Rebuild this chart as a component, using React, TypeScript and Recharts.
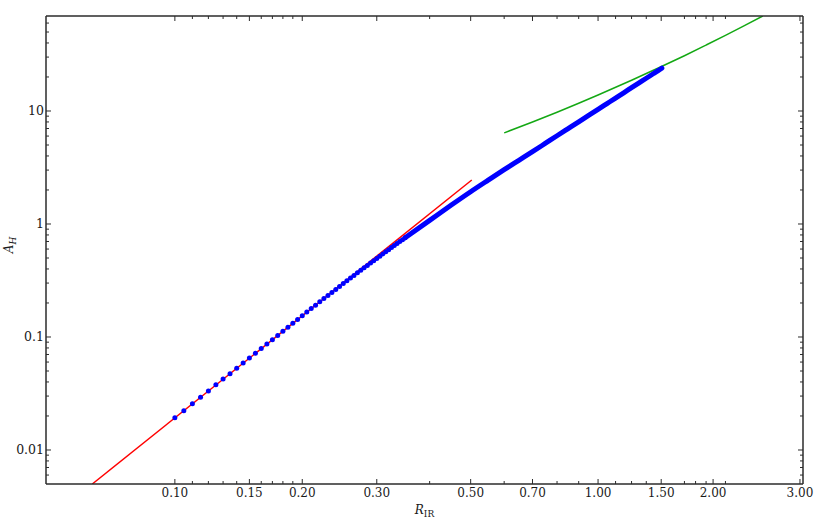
import React from "react";
import {
  ComposedChart,
  Line,
  Scatter,
  XAxis,
  YAxis,
} from "recharts";

// blue dots, evenly spaced in R where they are still visible one by one
const BLUE_DOT_R = [
  0.1, 0.105, 0.11, 0.115, 0.12, 0.125, 0.13, 0.135, 0.14, 0.145, 0.15,
  0.155, 0.16, 0.165, 0.17, 0.175, 0.18, 0.185, 0.19, 0.195, 0.2, 0.205,
  0.21, 0.215, 0.22, 0.225, 0.23, 0.235, 0.24, 0.245, 0.25, 0.255, 0.26,
  0.265, 0.27, 0.275, 0.28, 0.285, 0.29, 0.295, 0.3, 0.305, 0.31, 0.315,
  0.32, 0.325, 0.33, 0.335, 0.34, 0.345, 0.35,
];
const BLUE_DOT_A = [
  0.0193, 0.0223, 0.0257, 0.0293, 0.0333, 0.0377, 0.0424, 0.0474, 0.0529,
  0.0588, 0.0651, 0.0718, 0.079, 0.0866, 0.0947, 0.1033, 0.1124, 0.1221,
  0.1322, 0.143, 0.1542, 0.166, 0.1784, 0.1912, 0.2046, 0.2186, 0.2331,
  0.2481, 0.2637, 0.2799, 0.2967, 0.314, 0.3319, 0.3503, 0.3694, 0.3891,
  0.4093, 0.4301, 0.4515, 0.4736, 0.4961, 0.5193, 0.5432, 0.5675, 0.5926,
  0.6182, 0.6444, 0.6713, 0.6988, 0.7269, 0.755,
];

// dense part of the blue series, where the dots merge into a band
const BLUE_BAND_R = [
  0.35, 0.4, 0.45, 0.5, 0.55, 0.6, 0.65, 0.7, 0.75, 0.8, 0.85, 0.9, 0.95, 1.0,
  1.05, 1.1, 1.15, 1.2, 1.25, 1.3, 1.35, 1.4, 1.415,
];
const BLUE_BAND_A = [
  0.755, 1.077, 1.472, 1.931, 2.444, 3.023, 3.659, 4.365, 5.162, 6.041, 6.993,
  8.026, 9.133, 10.33, 11.63, 13.02, 14.49, 16.09, 17.76, 19.49, 21.36, 23.29,
  23.93,
];

// small-R asymptote (straight in log-log)
const RED_R = [0.0638, 0.503];
const RED_A = [0.005, 2.45];

// large-R asymptote
const GREEN_R = [0.6, 0.7, 0.8, 0.9, 1.0, 1.2, 1.4, 1.6, 1.8, 2.0, 2.2, 2.45];
const GREEN_A = [6.4, 8.0, 9.76, 11.7, 13.84, 18.69, 24.36, 30.86, 38.33, 46.67, 56.03, 69.3];

const X_MAJOR_TICKS = [0.1, 0.15, 0.2, 0.3, 0.5, 0.7, 1.0, 1.41, 1.87, 3.0];
const X_TICK_LABELS = ["0.10", "0.15", "0.20", "0.30", "0.50", "0.70", "1.00", "1.50", "2.00", "3.00"];
const X_MINOR_TICKS = [
  0.11, 0.12, 0.13, 0.14, 0.16, 0.17, 0.18, 0.19, 0.4, 0.6, 0.8, 0.9, 1.1, 1.2,
  1.3, 1.6, 1.7, 1.8, 2.0,
];

const Y_MAJOR_TICKS = [0.01, 0.1, 1, 10];
const Y_TICK_LABELS = ["0.01", "0.1", "1", "10"];
const Y_MINOR_TICKS = [
  0.006, 0.007, 0.008, 0.009, 0.02, 0.03, 0.04, 0.05, 0.06, 0.07, 0.08, 0.09,
  0.2, 0.3, 0.4, 0.5, 0.6, 0.7, 0.8, 0.9, 2, 3, 4, 5, 6, 7, 8, 9, 20, 30, 40,
  50, 60,
];

const X_DOMAIN = [0.0496, 3.05];
const Y_DOMAIN = [0.005, 69.3];

const zip = (xs: number[], ys: number[]) => xs.map((R, i) => ({ R, A: ys[i] }));

const blueDots = zip(BLUE_DOT_R, BLUE_DOT_A);
const blueBand = zip(BLUE_BAND_R, BLUE_BAND_A);
const redLine = zip(RED_R, RED_A);
const greenLine = zip(GREEN_R, GREEN_A);

const xTicks = [...X_MAJOR_TICKS, ...X_MINOR_TICKS].sort((a, b) => a - b);
const yTicks = [...Y_MAJOR_TICKS, ...Y_MINOR_TICKS].sort((a, b) => a - b);

const FRAME = "#2b2b2b";
const FONT = "'DejaVu Serif', 'Liberation Serif', serif";
const MAJOR_LEN = 5;
const MINOR_LEN = 3;

function BottomTick({ x, y, payload }: any) {
  const i = X_MAJOR_TICKS.indexOf(payload.value);
  return (
    <g>
      <line x1={x} x2={x} y1={y} y2={y - (i >= 0 ? MAJOR_LEN : MINOR_LEN)} stroke={FRAME} strokeWidth={1} />
      {i >= 0 && (
        <text x={x} y={y + 13} textAnchor="middle" fontFamily={FONT} fontSize={12} fill="#1a1a1a">
          {X_TICK_LABELS[i]}
        </text>
      )}
    </g>
  );
}

function TopTick({ x, y, payload }: any) {
  const major = X_MAJOR_TICKS.includes(payload.value);
  return <line x1={x} x2={x} y1={y} y2={y + (major ? MAJOR_LEN : MINOR_LEN)} stroke={FRAME} strokeWidth={1} />;
}

function LeftTick({ x, y, payload }: any) {
  const i = Y_MAJOR_TICKS.indexOf(payload.value);
  return (
    <g>
      <line x1={x} x2={x + (i >= 0 ? MAJOR_LEN : MINOR_LEN)} y1={y} y2={y} stroke={FRAME} strokeWidth={1} />
      {i >= 0 && (
        <text x={x - 2} y={y + 4.5} textAnchor="end" fontFamily={FONT} fontSize={12.5} fill="#1a1a1a">
          {Y_TICK_LABELS[i]}
        </text>
      )}
    </g>
  );
}

function RightTick({ x, y, payload }: any) {
  const major = Y_MAJOR_TICKS.includes(payload.value);
  return <line x1={x} x2={x - (major ? MAJOR_LEN : MINOR_LEN)} y1={y} y2={y} stroke={FRAME} strokeWidth={1} />;
}

function XTitle({ viewBox }: any) {
  const cx = viewBox.x + viewBox.width / 2;
  return (
    <text x={cx} y={viewBox.y + 30} textAnchor="middle" fontFamily={FONT} fontSize={12} fill="#1a1a1a">
      <tspan fontStyle="italic">R</tspan>
      <tspan fontSize={9} dy={3}>IR</tspan>
    </text>
  );
}

function YTitle({ viewBox }: any) {
  const cy = viewBox.y + viewBox.height / 2 - 5;
  return (
    <text
      x={13}
      y={cy}
      transform={`rotate(-90, 13, ${cy})`}
      textAnchor="middle"
      fontFamily={FONT}
      fontSize={12}
      fill="#1a1a1a"
    >
      <tspan fontStyle="italic">A</tspan>
      <tspan fontSize={9} fontStyle="italic" dy={3}>H</tspan>
    </text>
  );
}

const dot = (p: any) => <circle cx={p.cx} cy={p.cy} r={2.5} fill="#0000ff" />;

export default function App() {
  return (
    <div style={{ position: "absolute", left: 0, top: 0, width: 817, height: 518, background: "#fff" }}>
      <ComposedChart width={817} height={518} margin={{ top: 0, right: 0, bottom: 0, left: 0 }}>
        <XAxis
          xAxisId="b"
          type="number"
          dataKey="R"
          scale="log"
          domain={X_DOMAIN}
          allowDataOverflow
          ticks={xTicks}
          interval={0}
          height={34}
          tickSize={0}
          tickMargin={0}
          tickLine={false}
          tick={<BottomTick />}
          axisLine={{ stroke: FRAME, strokeWidth: 1.5 }}
          label={<XTitle />}
        />
        <XAxis
          xAxisId="t"
          orientation="top"
          type="number"
          dataKey="R"
          scale="log"
          domain={X_DOMAIN}
          allowDataOverflow
          ticks={xTicks}
          interval={0}
          height={16}
          tickSize={0}
          tickMargin={0}
          tickLine={false}
          tick={<TopTick />}
          axisLine={{ stroke: FRAME, strokeWidth: 1.5 }}
        />
        <YAxis
          yAxisId="l"
          type="number"
          scale="log"
          domain={Y_DOMAIN}
          allowDataOverflow
          ticks={yTicks}
          interval={0}
          width={46}
          tickSize={0}
          tickMargin={0}
          tickLine={false}
          tick={<LeftTick />}
          axisLine={{ stroke: FRAME, strokeWidth: 1.5 }}
          label={<YTitle />}
        />
        <YAxis
          yAxisId="r"
          orientation="right"
          type="number"
          scale="log"
          domain={Y_DOMAIN}
          allowDataOverflow
          ticks={yTicks}
          interval={0}
          width={14}
          tickSize={0}
          tickMargin={0}
          tickLine={false}
          tick={<RightTick />}
          axisLine={{ stroke: FRAME, strokeWidth: 1.5 }}
        />
        <Line
          xAxisId="b"
          yAxisId="l"
          data={redLine}
          dataKey="A"
          type="linear"
          stroke="#ff0000"
          strokeWidth={1.5}
          dot={false}
          isAnimationActive={false}
        />
        <Line
          xAxisId="b"
          yAxisId="l"
          data={greenLine}
          dataKey="A"
          type="monotone"
          stroke="#14a814"
          strokeWidth={1.5}
          dot={false}
          isAnimationActive={false}
        />
        <Line
          xAxisId="b"
          yAxisId="l"
          data={blueBand}
          dataKey="A"
          type="monotone"
          stroke="#0000ff"
          strokeWidth={5}
          strokeLinecap="round"
          dot={false}
          isAnimationActive={false}
        />
        <Scatter
          xAxisId="b"
          yAxisId="l"
          data={blueDots}
          dataKey="A"
          shape={dot}
          isAnimationActive={false}
        />
      </ComposedChart>
    </div>
  );
}
